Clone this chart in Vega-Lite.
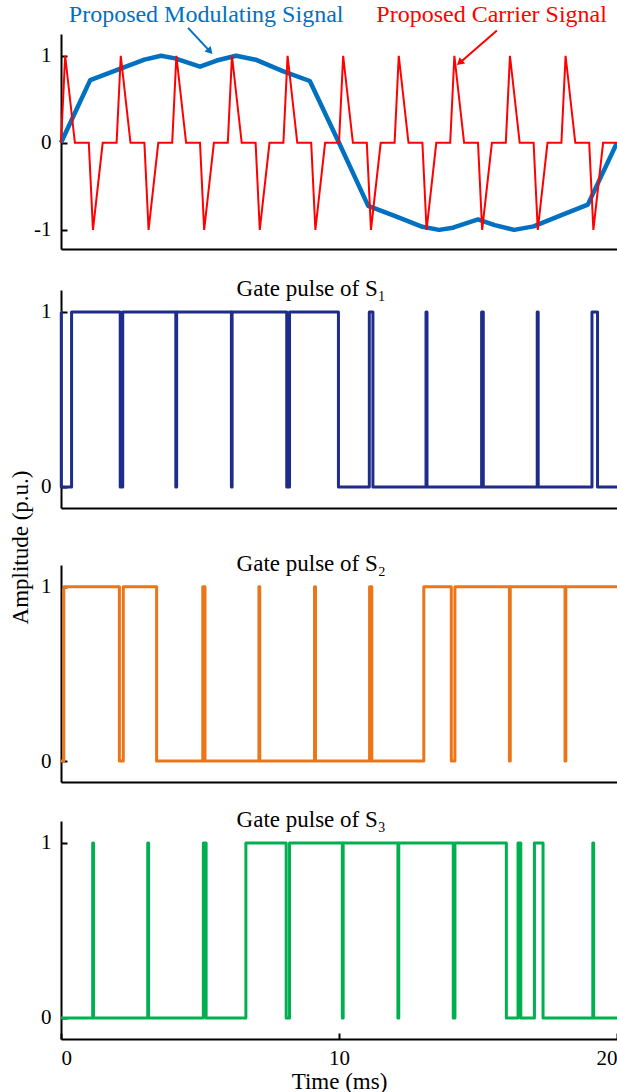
{
  "$schema": "https://vega.github.io/schema/vega-lite/v6.json",
  "background": "white",
  "padding": {"left": 8, "top": 2, "right": 0, "bottom": 0},
  "config": {
    "view": {"stroke": null},
    "font": "Liberation Serif",
    "axis": {"domainColor": "#000000", "domainWidth": 2, "tickColor": "#000000", "tickWidth": 2, "tickSize": -6, "labelFont": "Liberation Serif", "labelFontSize": 21, "labelColor": "#000000", "labelPadding": 16, "titleFont": "Liberation Serif", "titleFontSize": 23, "titleFontWeight": "normal", "titleColor": "#000000", "grid": false}
  },
  "datasets": {
    "mod": [
      {"t": 0, "v": 0}, {"t": 1.05, "v": 0.72}, {"t": 2, "v": 0.835}, {"t": 3, "v": 0.955}, {"t": 3.6, "v": 1.0}, {"t": 4.1, "v": 0.97}, {"t": 5, "v": 0.875}, {"t": 5.6, "v": 0.945}, {"t": 6.3, "v": 1.0}, {"t": 7, "v": 0.955}, {"t": 8, "v": 0.82}, {"t": 8.95, "v": 0.71}, {"t": 10, "v": 0},
      {"t": 11.05, "v": -0.725}, {"t": 12, "v": -0.84}, {"t": 13, "v": -0.965}, {"t": 13.6, "v": -1.0}, {"t": 14.1, "v": -0.975}, {"t": 15, "v": -0.88}, {"t": 15.6, "v": -0.945}, {"t": 16.3, "v": -1.0}, {"t": 17, "v": -0.96}, {"t": 18, "v": -0.83}, {"t": 18.95, "v": -0.71}, {"t": 20, "v": 0}
    ],
    "car": [
      {"t": 0, "v": 0}, {"t": 0.15, "v": 1}, {"t": 0.5, "v": 0}, {"t": 1, "v": 0}, {"t": 1.15, "v": -1}, {"t": 1.5, "v": 0},
      {"t": 2, "v": 0}, {"t": 2.15, "v": 1}, {"t": 2.5, "v": 0}, {"t": 3, "v": 0}, {"t": 3.15, "v": -1}, {"t": 3.5, "v": 0},
      {"t": 4, "v": 0}, {"t": 4.15, "v": 1}, {"t": 4.5, "v": 0}, {"t": 5, "v": 0}, {"t": 5.15, "v": -1}, {"t": 5.5, "v": 0},
      {"t": 6, "v": 0}, {"t": 6.15, "v": 1}, {"t": 6.5, "v": 0}, {"t": 7, "v": 0}, {"t": 7.15, "v": -1}, {"t": 7.5, "v": 0},
      {"t": 8, "v": 0}, {"t": 8.15, "v": 1}, {"t": 8.5, "v": 0}, {"t": 9, "v": 0}, {"t": 9.15, "v": -1}, {"t": 9.5, "v": 0},
      {"t": 10, "v": 0}, {"t": 10.15, "v": 1}, {"t": 10.5, "v": 0}, {"t": 11, "v": 0}, {"t": 11.15, "v": -1}, {"t": 11.5, "v": 0},
      {"t": 12, "v": 0}, {"t": 12.15, "v": 1}, {"t": 12.5, "v": 0}, {"t": 13, "v": 0}, {"t": 13.15, "v": -1}, {"t": 13.5, "v": 0},
      {"t": 14, "v": 0}, {"t": 14.15, "v": 1}, {"t": 14.5, "v": 0}, {"t": 15, "v": 0}, {"t": 15.15, "v": -1}, {"t": 15.5, "v": 0},
      {"t": 16, "v": 0}, {"t": 16.15, "v": 1}, {"t": 16.5, "v": 0}, {"t": 17, "v": 0}, {"t": 17.15, "v": -1}, {"t": 17.5, "v": 0},
      {"t": 18, "v": 0}, {"t": 18.15, "v": 1}, {"t": 18.5, "v": 0}, {"t": 19, "v": 0}, {"t": 19.15, "v": -1}, {"t": 19.5, "v": 0},
      {"t": 20, "v": 0}
    ],
    "notes": [
      {"series": "mod", "label": "Proposed Modulating Signal", "t": 5.22, "v": 1.39},
      {"series": "car", "label": "Proposed Carrier Signal", "t": 15.49, "v": 1.39}
    ],
    "arrows": [
      {"series": "mod", "t": 4.57, "v": 1.32, "t2": 5.3, "v2": 1.07},
      {"series": "car", "t": 15.68, "v": 1.29, "t2": 14.42, "v2": 0.94}
    ],
    "heads": [
      {"series": "mod", "t": 5.36, "v": 1.05},
      {"series": "car", "t": 14.34, "v": 0.92}
    ],
    "gatetitles": [
      {"panel": "S1", "label": "Gate pulse of S\u2081", "t": 9.0, "v": 1.09},
      {"panel": "S2", "label": "Gate pulse of S\u2082", "t": 9.0, "v": 1.09},
      {"panel": "S3", "label": "Gate pulse of S\u2083", "t": 9.0, "v": 1.09}
    ],
    "s1": [
      {"t": 0, "v": 1}, {"t": 0.01, "v": 0}, {"t": 0.38, "v": 1}, {"t": 2.13, "v": 0}, {"t": 2.22, "v": 1}, {"t": 4.13, "v": 0}, {"t": 4.16, "v": 1}, {"t": 6.13, "v": 0}, {"t": 6.155, "v": 1}, {"t": 8.12, "v": 0}, {"t": 8.22, "v": 1}, {"t": 9.98, "v": 0}, {"t": 11.09, "v": 1}, {"t": 11.22, "v": 0}, {"t": 13.13, "v": 1}, {"t": 13.165, "v": 0}, {"t": 15.13, "v": 1}, {"t": 15.19, "v": 0}, {"t": 17.13, "v": 1}, {"t": 17.165, "v": 0}, {"t": 19.1, "v": 1}, {"t": 19.3, "v": 0}, {"t": 20, "v": 0}
    ],
    "s2": [
      {"t": 0, "v": 0}, {"t": 0.1, "v": 1}, {"t": 2.1, "v": 0}, {"t": 2.24, "v": 1}, {"t": 3.44, "v": 0}, {"t": 5.1, "v": 1}, {"t": 5.18, "v": 0}, {"t": 7.12, "v": 1}, {"t": 7.15, "v": 0}, {"t": 9.12, "v": 1}, {"t": 9.155, "v": 0}, {"t": 11.1, "v": 1}, {"t": 11.18, "v": 0}, {"t": 13.05, "v": 1}, {"t": 14.04, "v": 0}, {"t": 14.17, "v": 1}, {"t": 16.13, "v": 0}, {"t": 16.16, "v": 1}, {"t": 18.13, "v": 0}, {"t": 18.16, "v": 1}, {"t": 20, "v": 1}
    ],
    "s3": [
      {"t": 0, "v": 0}, {"t": 1.14, "v": 1}, {"t": 1.17, "v": 0}, {"t": 3.12, "v": 1}, {"t": 3.15, "v": 0}, {"t": 5.12, "v": 1}, {"t": 5.22, "v": 0}, {"t": 6.65, "v": 1}, {"t": 8.1, "v": 0}, {"t": 8.22, "v": 1}, {"t": 10.12, "v": 0}, {"t": 10.15, "v": 1}, {"t": 12.12, "v": 0}, {"t": 12.15, "v": 1}, {"t": 14.11, "v": 0}, {"t": 14.17, "v": 1}, {"t": 16.02, "v": 0}, {"t": 16.44, "v": 1}, {"t": 16.54, "v": 0}, {"t": 17.03, "v": 1}, {"t": 17.34, "v": 0}, {"t": 19.13, "v": 1}, {"t": 19.16, "v": 0}, {"t": 20, "v": 0}
    ],
    "empty": []
  },
  "spacing": 0,
  "bounds": "flush",
  "vconcat": [
    {
      "width": 556,
      "height": 215,
      "encoding": {
        "x": {"field": "t", "type": "quantitative", "scale": {"domain": [0, 20], "nice": false, "zero": false}, "axis": {"ticks": false, "labels": false, "title": null}},
        "y": {"field": "v", "type": "quantitative", "scale": {"domain": [-1.22, 1.25], "nice": false, "zero": false}, "axis": {"values": [-1, 0, 1], "title": null, "labelExpr": "replace(datum.label, '\u2212', '-')"}}
      },
      "layer": [
        {"data": {"name": "mod"}, "mark": {"type": "line", "color": "#0070C0", "strokeWidth": 4.5, "strokeJoin": "round"}},
        {"data": {"name": "car"}, "mark": {"type": "line", "color": "#FF0000", "strokeWidth": 2}},
        {
          "data": {"name": "notes"},
          "mark": {"type": "text", "fontSize": 24, "font": "Liberation Serif", "align": "center", "baseline": "alphabetic"},
          "encoding": {
            "text": {"field": "label", "type": "nominal"},
            "color": {"field": "series", "type": "nominal", "scale": {"domain": ["mod", "car"], "range": ["#0070C0", "#FF0000"]}, "legend": null}
          }
        },
        {
          "data": {"name": "arrows"},
          "mark": {"type": "rule", "strokeWidth": 2},
          "encoding": {
            "x2": {"field": "t2"},
            "y2": {"field": "v2"},
            "color": {"field": "series", "type": "nominal", "scale": {"domain": ["mod", "car"], "range": ["#0070C0", "#FF0000"]}, "legend": null}
          }
        },
        {
          "data": {"name": "heads"},
          "transform": [{"filter": "datum.series == 'mod'"}],
          "mark": {"type": "point", "shape": "triangle-up", "filled": true, "size": 70, "angle": 137, "color": "#0070C0", "opacity": 1}
        },
        {
          "data": {"name": "heads"},
          "transform": [{"filter": "datum.series == 'car'"}],
          "mark": {"type": "point", "shape": "triangle-up", "filled": true, "size": 70, "angle": 229, "color": "#FF0000", "opacity": 1}
        }
      ]
    },
    {"width": 556, "height": 41, "data": {"name": "empty"}, "mark": "point", "encoding": {}},
    {
      "width": 556,
      "height": 218,
      "encoding": {
        "x": {"field": "t", "type": "quantitative", "scale": {"domain": [0, 20], "nice": false, "zero": false}, "axis": {"ticks": false, "labels": false, "title": null}},
        "y": {"field": "v", "type": "quantitative", "scale": {"domain": [-0.12, 1.125], "nice": false, "zero": false}, "axis": {"values": [0, 1], "format": "d", "title": null}}
      },
      "layer": [
        {"data": {"name": "s1"}, "mark": {"type": "line", "interpolate": "step-after", "color": "#1E2D8C", "strokeWidth": 3, "strokeJoin": "round"}},
        {"data": {"name": "gatetitles"}, "transform": [{"filter": "datum.panel == 'S1'"}], "mark": {"type": "text", "fontSize": 23, "font": "Liberation Serif", "color": "#000000", "align": "center", "baseline": "alphabetic"}, "encoding": {"text": {"field": "label", "type": "nominal"}}}
      ]
    },
    {"width": 556, "height": 57, "data": {"name": "empty"}, "mark": "point", "encoding": {}},
    {
      "width": 556,
      "height": 217,
      "encoding": {
        "x": {"field": "t", "type": "quantitative", "scale": {"domain": [0, 20], "nice": false, "zero": false}, "axis": {"ticks": false, "labels": false, "title": null}},
        "y": {"field": "v", "type": "quantitative", "scale": {"domain": [-0.12, 1.125], "nice": false, "zero": false}, "axis": {"values": [0, 1], "format": "d", "title": "Amplitude (p.u.)", "titleX": -41, "titleY": -18, "titleAngle": -90, "titleAlign": "center", "titleBaseline": "middle"}}
      },
      "layer": [
        {"data": {"name": "s2"}, "mark": {"type": "line", "interpolate": "step-after", "color": "#EC7518", "strokeWidth": 3, "strokeJoin": "round"}},
        {"data": {"name": "gatetitles"}, "transform": [{"filter": "datum.panel == 'S2'"}], "mark": {"type": "text", "fontSize": 23, "font": "Liberation Serif", "color": "#000000", "align": "center", "baseline": "alphabetic"}, "encoding": {"text": {"field": "label", "type": "nominal"}}}
      ]
    },
    {"width": 556, "height": 39, "data": {"name": "empty"}, "mark": "point", "encoding": {}},
    {
      "width": 556,
      "height": 218,
      "encoding": {
        "x": {"field": "t", "type": "quantitative", "scale": {"domain": [0, 20], "nice": false, "zero": false}, "axis": {"values": [0, 10, 20], "title": "Time (ms)", "labelPadding": 14, "titlePadding": 2}},
        "y": {"field": "v", "type": "quantitative", "scale": {"domain": [-0.12, 1.125], "nice": false, "zero": false}, "axis": {"values": [0, 1], "format": "d", "title": null}}
      },
      "layer": [
        {"data": {"name": "s3"}, "mark": {"type": "line", "interpolate": "step-after", "color": "#00B050", "strokeWidth": 3, "strokeJoin": "round"}},
        {"data": {"name": "gatetitles"}, "transform": [{"filter": "datum.panel == 'S3'"}], "mark": {"type": "text", "fontSize": 23, "font": "Liberation Serif", "color": "#000000", "align": "center", "baseline": "alphabetic"}, "encoding": {"text": {"field": "label", "type": "nominal"}}}
      ]
    }
  ]
}
